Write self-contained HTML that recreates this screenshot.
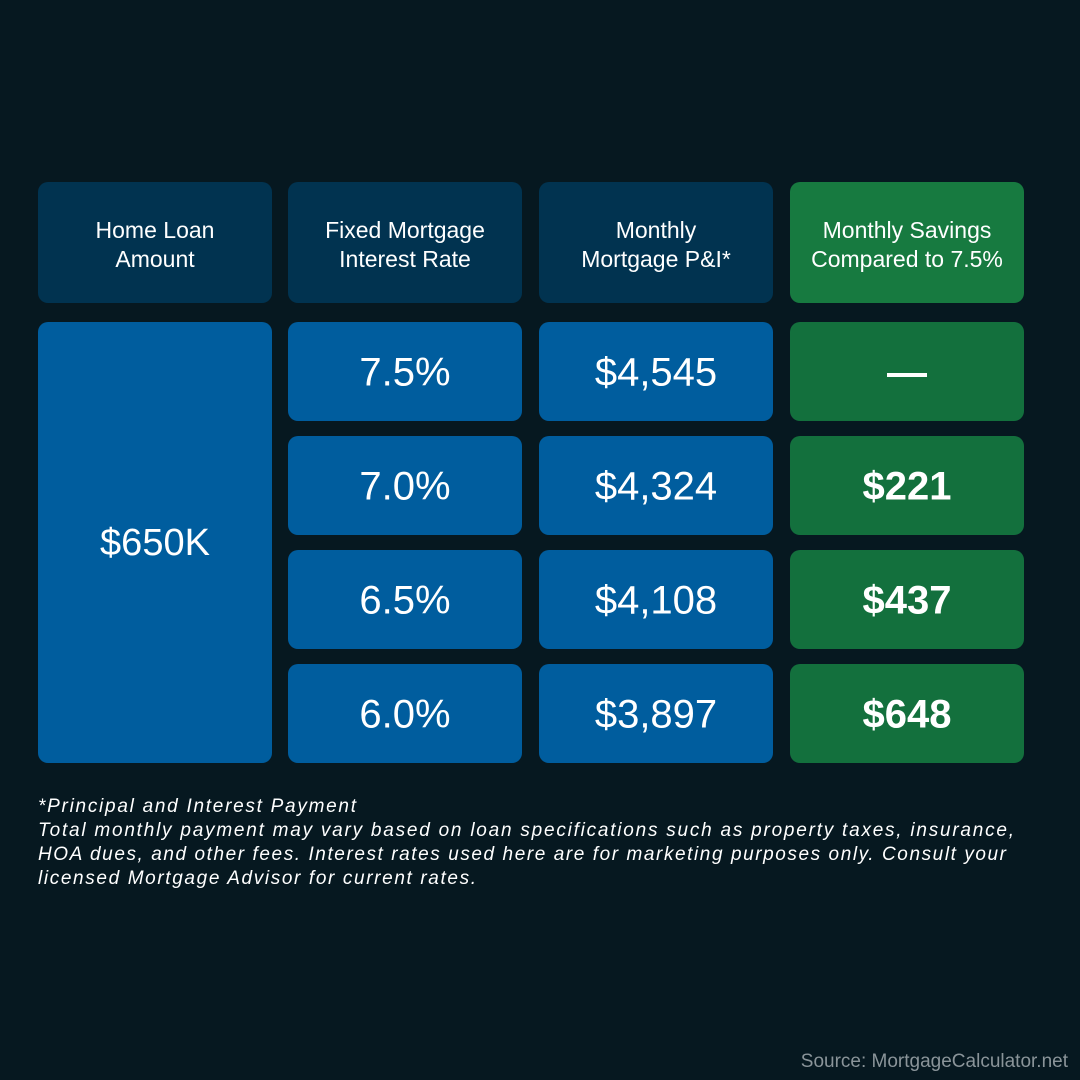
<!DOCTYPE html>
<html><head><meta charset="utf-8"><style>
html,body{margin:0;padding:0;background:#061820;}
svg{display:block;font-family:"Liberation Sans",sans-serif;}
</style></head><body>
<svg width="1080" height="1080" viewBox="0 0 1080 1080">
<rect width="1080" height="1080" fill="#061820"/>
<g id="cells"></g>
<g font-style="italic" font-size="19" fill="#ffffff">
<text x="38" y="812" textLength="318">*Principal and Interest Payment</text>
<text x="38" y="836" textLength="976">Total monthly payment may vary based on loan specifications such as property taxes, insurance,</text>
<text x="38" y="860" textLength="968">HOA dues, and other fees. Interest rates used here are for marketing purposes only. Consult your</text>
<text x="38" y="884" textLength="438">licensed Mortgage Advisor for current rates.</text>
</g>
<text x="1068" y="1067" text-anchor="end" font-size="19" fill="#8a9499">Source: MortgageCalculator.net</text>
</svg>
<script>
const headers = [["Home Loan","Amount"],["Fixed Mortgage","Interest Rate"],["Monthly","Mortgage P&I*"],["Monthly Savings","Compared to 7.5%"]];
const loanAmount = "$650K";
const rates = ["7.5%","7.0%","6.5%","6.0%"];
const payments = ["$4,545","$4,324","$4,108","$3,897"];
const savings = ["—","$221","$437","$648"];

const NS="http://www.w3.org/2000/svg";
const g=document.getElementById('cells');
const colX=[38,288,539,790], W=234;
const rowY=[322,436,550,664], H=99;
function rect(x,y,w,h,fill){const r=document.createElementNS(NS,'rect');r.setAttribute('x',x);r.setAttribute('y',y);r.setAttribute('width',w);r.setAttribute('height',h);r.setAttribute('rx',10);r.setAttribute('fill',fill);g.appendChild(r);return r;}
function text(x,y,s,size,bold){const t=document.createElementNS(NS,'text');t.setAttribute('x',x);t.setAttribute('y',y);t.setAttribute('text-anchor','middle');t.setAttribute('font-size',size);t.setAttribute('fill','#ffffff');if(bold)t.setAttribute('font-weight','bold');t.textContent=s;g.appendChild(t);return t;}
headers.forEach((h,i)=>{
  const r=rect(colX[i],182,W,121,i===3?'#177a40':'#013350');
  
  
  h.forEach((line,j)=>{const t=text(colX[i]+W/2,238+j*29,line,23,false);
    
    });
});
const big=rect(38,322,W,441,'#005d9e');


const bt=text(38+W/2,555,loanAmount,38,false);


rates.forEach((v,k)=>{
  const y=rowY[k];
  const r1=rect(colX[1],y,W,H,'#005d9e');
  
  
  const t1=text(colX[1]+W/2,y+H/2+14,v,40,false);
  
  
  const r2=rect(colX[2],y,W,H,'#005d9e');
  
  
  const t2=text(colX[2]+W/2,y+H/2+14,payments[k],40,false);
  
  
  const r3=rect(colX[3],y,W,H,'#13703d');
  
  
  const t3=text(colX[3]+W/2,y+H/2+14,savings[k],40,true);
  
  
});
</script>
</body></html>
